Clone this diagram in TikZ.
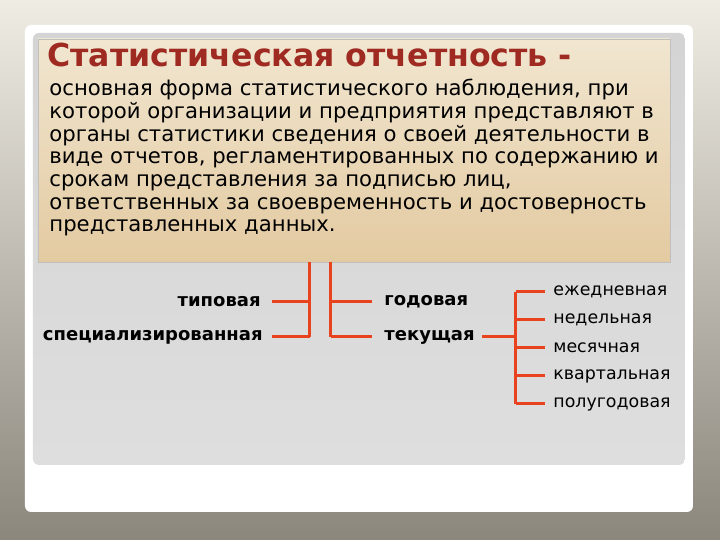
\documentclass[tikz,border=0pt]{standalone}
\usepackage{fontspec}
\setmainfont{DejaVu Sans}
\usetikzlibrary{positioning}
\definecolor{titlered}{HTML}{9E2A22}
\definecolor{linered}{HTML}{E8431E}
\definecolor{beigetop}{HTML}{F1E6D0}
\definecolor{beigebot}{HTML}{E3CAA1}
\definecolor{bgtop}{HTML}{EFECE4}
\definecolor{bgbot}{HTML}{8C877D}
\definecolor{paneltop}{HTML}{D4D4D4}
\definecolor{panelbot}{HTML}{DEDEDE}
\tikzset{link/.style = {draw=linered, line width=1.5pt},
         kind/.style = {font=\fontsize{9}{10}\selectfont\bfseries, inner sep=0pt},
         period/.style = {font=\fontsize{8.7}{10}\selectfont, inner sep=0pt, anchor=west}}

\begin{document}
\begin{tikzpicture}[x=0.5pt,y=-0.5pt]
        \useasboundingbox (0,0) rectangle (720,540);
        \shade [top color=bgtop, bottom color=bgbot] (0,0) rectangle (720,540);
        % slide frame and panel
        \fill [white, rounded corners=3pt] (25,25) rectangle (693,512);
        \shade [top color=paneltop, bottom color=panelbot, rounded corners=3pt] (33,33) rectangle (685,465);
        \shadedraw [top color=beigetop, bottom color=beigebot, draw=black!25] (38,39) rectangle (670,262);
        % definition
        \node [anchor=base west, inner sep=0pt, text=titlered, font=\fontsize{15.8}{17}\selectfont\bfseries] (title) at (47,67) {Статистическая отчетность -};
        \node [anchor=base west, inner sep=0pt, align=left, font=\fontsize{10.6}{11.35}\selectfont] (body) at (49,232) {основная форма статистического наблюдения, при\\
            которой организации и предприятия представляют в\\
            органы статистики сведения о своей деятельности в\\
            виде отчетов, регламентированных по содержанию и\\
            срокам представления за подписью лиц,\\
            ответственных за своевременность и достоверность\\
            представленных данных.};
        % kinds of reports
        \coordinate (L0) at (310,262);
        \coordinate (R0) at (331,262);
        \coordinate (L1) at (310,302);
        \coordinate (L2) at (310,337);
        \coordinate (R1) at (331,302);
        \coordinate (R2) at (331,337);
        \node [kind, anchor=east] (typ) at (261,302) {типовая};
        \node [kind, anchor=east] (spec) at (263,337) {специализированная};
        \node [kind, anchor=west] (year) at (384,302) {годовая};
        \node [kind, anchor=west] (cur) at (384,337) {текущая};
        \draw [link] (L0) -- (L2);
        \draw [link] (R0) -- (R2);
        \draw [link] ([xshift=5.5pt]typ.east) -- (L1);
        \draw [link] ([xshift=4.5pt]spec.east) -- (L2);
        \draw [link] (R1) -- ([xshift=-6pt]year.west);
        \draw [link] (R2) -- ([xshift=-6pt]cur.west);
        % periods
        \coordinate (P0) at (516,337);
        \coordinate (Ptop) at (516,292);
        \coordinate (Pbot) at (516,404);
        \draw [link] ([xshift=3.5pt]cur.east) -- (P0);
        \draw [link] (Ptop) -- (Pbot);
        \foreach \name/\y/\txt in {d/292/ежедневная, w/320/недельная, m/348/месячная, q/376/квартальная, h/404/полугодовая} {
            \node [period] (\name) at (553,\y) {\txt};
            \draw [link] (516,\y) -- ([xshift=-4pt]\name.west);
        }
    \end{tikzpicture}
\end{document}
